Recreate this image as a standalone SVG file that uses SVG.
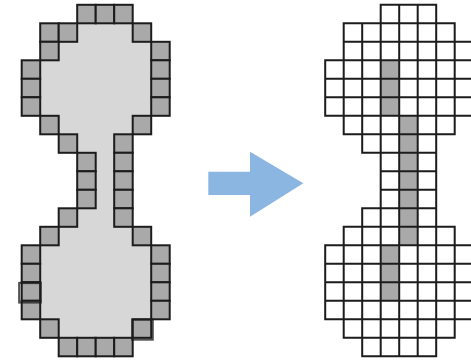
<svg xmlns="http://www.w3.org/2000/svg" xmlns:xlink="http://www.w3.org/1999/xlink" width="471" height="361" viewBox="0 0 471 361">
<style>
.g{fill:#a9a9a9;stroke:#1c1c1c;stroke-width:2}
.in{fill:#d7d7d7;stroke:none}
.grid{fill:none;stroke:#1c1c1c;stroke-width:2;stroke-linecap:square}
.gr{fill:#a9a9a9}
.hl{fill:none;stroke:#1c1c1c;stroke-width:2.2;opacity:0.75;filter:url(#blur)}
</style>
<defs>
<rect id="c" width="18.5" height="18.5" class="g"/>
<filter id="blur" x="-20%" y="-20%" width="140%" height="140%"><feGaussianBlur stdDeviation="0.6"/></filter>
</defs>
<rect width="471" height="361" fill="#ffffff"/>
<g id="left-shape" transform="translate(21.7 4.8)">
<polygon class="in" points="55.5,0 111,0 111,18.5 129.5,18.5 129.5,37 148,37 148,111 129.5,111 129.5,129.5 111,129.5 111,222 129.5,222 129.5,240.5 148,240.5 148,314.5 129.5,314.5 129.5,333 111,333 111,351.5 37,351.5 37,333 18.5,333 18.5,314.5 0,314.5 0,240.5 18.5,240.5 18.5,222 37,222 37,203.5 55.5,203.5 55.5,148 37,148 37,129.5 18.5,129.5 18.5,111 0,111 0,55.5 18.5,55.5 18.5,18.5 55.5,18.5"/>
<use xlink:href="#c" x="55.5" y="0"/><use xlink:href="#c" x="74" y="0"/><use xlink:href="#c" x="92.5" y="0"/>
<use xlink:href="#c" x="18.5" y="18.5"/><use xlink:href="#c" x="37" y="18.5"/><use xlink:href="#c" x="111" y="18.5"/>
<use xlink:href="#c" x="18.5" y="37"/><use xlink:href="#c" x="129.5" y="37"/>
<use xlink:href="#c" x="0" y="55.5"/><use xlink:href="#c" x="129.5" y="55.5"/>
<use xlink:href="#c" x="0" y="74"/><use xlink:href="#c" x="129.5" y="74"/>
<use xlink:href="#c" x="0" y="92.5"/><use xlink:href="#c" x="129.5" y="92.5"/>
<use xlink:href="#c" x="18.5" y="111"/><use xlink:href="#c" x="111" y="111"/>
<use xlink:href="#c" x="37" y="129.5"/><use xlink:href="#c" x="92.5" y="129.5"/>
<use xlink:href="#c" x="55.5" y="148"/><use xlink:href="#c" x="92.5" y="148"/>
<use xlink:href="#c" x="55.5" y="166.5"/><use xlink:href="#c" x="92.5" y="166.5"/>
<use xlink:href="#c" x="55.5" y="185"/><use xlink:href="#c" x="92.5" y="185"/>
<use xlink:href="#c" x="37" y="203.5"/><use xlink:href="#c" x="92.5" y="203.5"/>
<use xlink:href="#c" x="18.5" y="222"/><use xlink:href="#c" x="111" y="222"/>
<use xlink:href="#c" x="0" y="240.5"/><use xlink:href="#c" x="129.5" y="240.5"/>
<use xlink:href="#c" x="0" y="259"/><use xlink:href="#c" x="129.5" y="259"/>
<use xlink:href="#c" x="0" y="277.5"/><use xlink:href="#c" x="129.5" y="277.5"/>
<use xlink:href="#c" x="0" y="296"/><use xlink:href="#c" x="129.5" y="296"/>
<use xlink:href="#c" x="18.5" y="314.5"/><use xlink:href="#c" x="111" y="314.5"/>
<use xlink:href="#c" x="37" y="333"/><use xlink:href="#c" x="55.5" y="333"/><use xlink:href="#c" x="74" y="333"/><use xlink:href="#c" x="92.5" y="333"/>
<rect class="hl" x="-2.5" y="278.2" width="21.5" height="19.5"/>
<rect class="hl" x="110.5" y="314.8" width="20.5" height="20"/>
</g>
<g id="arrow">
<polygon points="208.3,171.7 250,171.7 250,151.7 303.3,183.3 250,216.7 250,195 208.3,195" fill="#8bb6e2"/>
</g>
<g id="right-shape" transform="translate(325.2 4.8)">
<rect class="gr" x="55.5" y="55.5" width="18.5" height="55.5"/>
<rect class="gr" x="74" y="111" width="18.5" height="129.5"/>
<rect class="gr" x="55.5" y="240.5" width="18.5" height="55.5"/>
<path class="grid" d="M55.5 0H111 M18.5 18.5H129.5 M18.5 37H148 M0 55.5H148 M0 74H148 M0 92.5H148 M0 111H148 M18.5 129.5H129.5 M37 148H111 M55.5 166.5H111 M55.5 185H111 M37 203.5H111 M18.5 222H129.5 M0 240.5H148 M0 259H148 M0 277.5H148 M0 296H148 M0 314.5H148 M18.5 333H129.5 M37 351.5H111 M0 55.5V111 M0 240.5V314.5 M18.5 18.5V129.5 M18.5 222V333 M37 18.5V148 M37 203.5V351.5 M55.5 0V351.5 M74 0V351.5 M92.5 0V351.5 M111 0V351.5 M129.5 18.5V129.5 M129.5 222V333 M148 37V111 M148 240.5V314.5"/>
</g>
</svg>
